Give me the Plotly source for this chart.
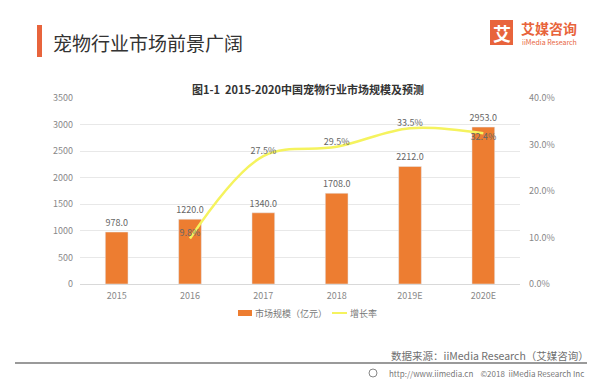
import plotly.graph_objects as go

years = ["2015", "2016", "2017", "2018", "2019E", "2020E"]
market_size = [978.0, 1220.0, 1340.0, 1708.0, 2212.0, 2953.0]
growth_years = ["2016", "2017", "2018", "2019E", "2020E"]
growth_rate = [9.8, 27.5, 29.5, 33.5, 32.4]
left_ticks = [0, 500, 1000, 1500, 2000, 2500, 3000, 3500]
right_ticks = [0, 10, 20, 30, 40]

FONT = "Noto Sans CJK SC, Microsoft YaHei, sans-serif"
ORANGE = "#ED7D31"
LOGO = "#E8643C"
YELLOW = "#F5F35E"

OFF = 8  # page body margin
W, H = 600 - OFF, 384 - OFF
L, R, T, B = 80 - OFF, 520 - OFF, 98 - OFF, 284 - OFF

def px(x):
    return (x - OFF - L) / (R - L)
def py(y):
    return (B - (y - OFF)) / (B - T)

fig = go.Figure()
fig.add_trace(go.Bar(
    x=years, y=market_size, name="市场规模（亿元）",
    marker_color=ORANGE, width=0.31,
    text=[f"{v:.1f}" for v in market_size], textposition="outside",
    constraintext="none",
    textfont=dict(size=9, color="#666666", family=FONT),
    cliponaxis=False,
))
fig.add_trace(go.Scatter(
    x=growth_years, y=growth_rate, name="增长率", yaxis="y2",
    mode="lines+text", line=dict(color=YELLOW, width=2.5, shape="spline", smoothing=1.0),
    text=[f"{v:.1f}%" for v in growth_rate],
    textposition=["top center", "top center", "top center", "top center", "bottom center"],
    textfont=dict(size=9, color="#666666", family=FONT),
    cliponaxis=False,
))

fig.update_layout(
    width=W, height=H,
    margin=dict(l=L, r=W - R, t=T, b=H - B),
    paper_bgcolor="white", plot_bgcolor="white",
    font=dict(family=FONT, color="#888888", size=9),
    showlegend=False,
    xaxis=dict(type="category", showgrid=False, showline=True, linecolor="#d9d9d9",
               ticks="", tickfont=dict(size=9, color="#888888"), ticklabelstandoff=3),
    yaxis=dict(range=[0, 3500], tickvals=left_ticks, showgrid=True, gridcolor="#e8e8e8",
               zeroline=False, showline=False, tickfont=dict(size=9, color="#888888"),
               ticklabelstandoff=6),
    yaxis2=dict(range=[0, 40], tickvals=right_ticks, overlaying="y", side="right",
                showgrid=False, zeroline=False, showline=False,
                ticktext=[f"{v:.1f}%" for v in right_ticks],
                tickmode="array",
                tickfont=dict(size=9, color="#888888"), ticklabelstandoff=8),
)

shapes = [
    dict(type="rect", xref="paper", yref="paper", x0=px(37), x1=px(42), y0=py(57), y1=py(25),
         fillcolor=LOGO, line=dict(width=0)),
    dict(type="rect", xref="paper", yref="paper", x0=px(490), x1=px(513), y0=py(45), y1=py(20),
         fillcolor=LOGO, line=dict(width=0)),
    dict(type="line", xref="paper", yref="paper", x0=px(15), x1=px(587), y0=py(363), y1=py(363),
         line=dict(color="#9a9a9a", width=2)),
    dict(type="circle", xref="paper", yref="paper", x0=px(369), x1=px(377), y0=py(377), y1=py(369),
         line=dict(color="#888888", width=1)),
    # legend swatches
    dict(type="rect", xref="paper", yref="paper", x0=px(238), x1=px(252), y0=py(316), y1=py(310),
         fillcolor=ORANGE, line=dict(width=0)),
    dict(type="line", xref="paper", yref="paper", x0=px(332), x1=px(347), y0=py(313), y1=py(313),
         line=dict(color=YELLOW, width=2)),
]
annotations = [
    dict(text="宠物行业市场前景广阔", xref="paper", yref="paper", x=px(51), y=py(42),
         xanchor="left", yanchor="middle", showarrow=False,
         font=dict(size=19, color="#333333", family=FONT)),
    dict(text="<b>图1-1  2015-2020中国宠物行业市场规模及预测</b>", xref="paper", yref="paper",
         x=px(308), y=py(89), xanchor="center", yanchor="middle", showarrow=False,
         font=dict(size=11, color="#333333", family=FONT)),
    dict(text="<b>艾</b>", xref="paper", yref="paper", x=px(501.5), y=py(32.5),
         xanchor="center", yanchor="middle", showarrow=False,
         font=dict(size=18, color="white", family=FONT)),
    dict(text="<b>艾媒咨询</b>", xref="paper", yref="paper", x=px(519), y=py(28),
         xanchor="left", yanchor="middle", showarrow=False,
         font=dict(size=14, color=LOGO, family=FONT)),
    dict(text="iiMedia Research", xref="paper", yref="paper", x=px(520), y=py(42),
         xanchor="left", yanchor="middle", showarrow=False,
         font=dict(size=7, color=LOGO, family=FONT)),
    dict(text="市场规模（亿元）", xref="paper", yref="paper", x=px(253), y=py(313),
         xanchor="left", yanchor="middle", showarrow=False,
         font=dict(size=9, color="#777777", family=FONT)),
    dict(text="增长率", xref="paper", yref="paper", x=px(348), y=py(313),
         xanchor="left", yanchor="middle", showarrow=False,
         font=dict(size=9, color="#777777", family=FONT)),
    dict(text="数据来源：iiMedia Research（艾媒咨询）", xref="paper", yref="paper",
         x=px(591), y=py(355), xanchor="right", yanchor="middle", showarrow=False,
         font=dict(size=10.5, color="#707070", family=FONT)),
    dict(text="http://www.iimedia.cn    ©2018  iiMedia Research Inc", xref="paper", yref="paper",
         x=px(586), y=py(373), xanchor="right", yanchor="middle", showarrow=False,
         font=dict(size=8, color="#777777", family=FONT)),
]
fig.update_layout(shapes=shapes, annotations=annotations)

fig.write_html("out.html")
